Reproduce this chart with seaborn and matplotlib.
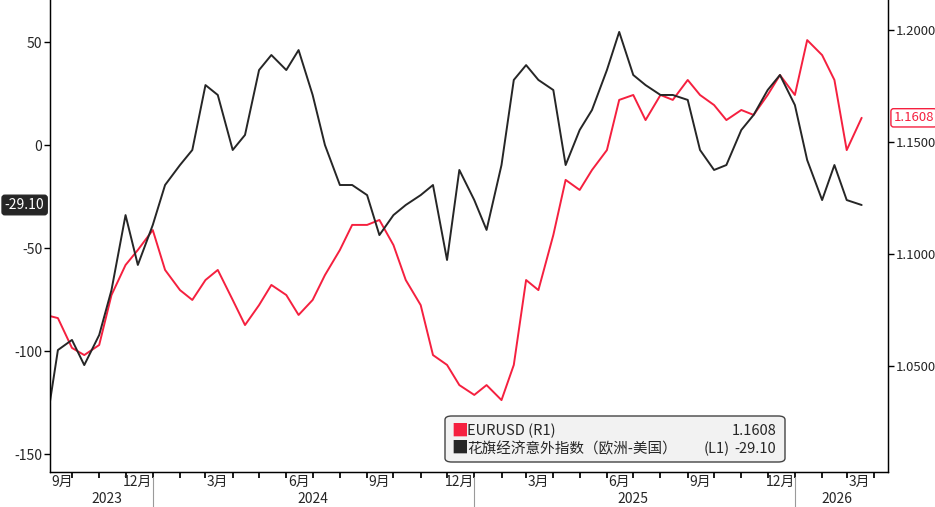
import matplotlib
matplotlib.use("Agg")
import matplotlib.pyplot as plt
import matplotlib.dates as mdates
import matplotlib.transforms as mtrans
import seaborn as sns
import pandas as pd
import numpy as np
from matplotlib.patches import FancyBboxPatch

sns.set_theme(style="white")
plt.rcParams['font.family'] = ['Noto Sans CJK SC', 'DejaVu Sans']

dates = list(pd.date_range('2023-09-01', '2026-03-01', freq='SMS')) + [pd.Timestamp('2026-03-18')]

eurusd = [1.0728, 1.0714, 1.0581, 1.0549, 1.0594, 1.0817, 1.0951, 1.1018, 1.1107, 1.0929,
          1.0839, 1.0795, 1.0884, 1.0929, 1.0795, 1.0683, 1.0772, 1.0862, 1.0817, 1.0728,
          1.0795, 1.0906, 1.1018, 1.1130, 1.1130, 1.1152, 1.1040, 1.0884, 1.0772, 1.0549,
          1.0505, 1.0415, 1.0371, 1.0415, 1.0348, 1.0505, 1.0884, 1.0839, 1.1085, 1.1331,
          1.1286, 1.1375, 1.1464, 1.1688, 1.1710, 1.1598, 1.1710, 1.1688, 1.1777, 1.1710,
          1.1665, 1.1598, 1.1643, 1.1621, 1.1710, 1.1799, 1.1710, 1.1955, 1.1888, 1.1777,
          1.1464, 1.1608]

citi = [-138.3, -99.5, -94.6, -106.8, -92.2, -70.4, -34.0, -58.2, -38.8, -19.4,
        -9.7, -2.4, 29.1, 24.3, -2.4, 4.9, 36.4, 43.7, 36.4, 46.1,
        24.3, 0.0, -19.4, -19.4, -24.3, -43.7, -34.0, -29.1, -24.3, -19.4,
        -55.8, -12.1, -26.7, -41.2, -9.7, 31.6, 38.8, 31.6, 26.7, -9.7,
        7.3, 17.0, 36.4, 54.9, 34.0, 29.1, 24.3, 24.3, 21.9, -2.4,
        -12.1, -9.7, 7.3, 14.6, 26.7, 34.0, 19.4, -7.3, -26.7, -9.7,
        -26.7, -29.1]

left_ticks = [-150, -100, -50, 0, 50]
right_ticks = [1.05, 1.10, 1.15, 1.20]
RED = '#f5203f'
BLACK = '#262626'

df = pd.DataFrame({'date': dates, 'eurusd': eurusd, 'citi': citi})

fig = plt.figure(figsize=(9.35, 5.07), dpi=100)
ax = fig.add_axes([50/935, 35/507, 838/935, 472/507])
ax2 = ax.twinx()

sns.lineplot(data=df, x='date', y='citi', ax=ax, color=BLACK, lw=1.4)
sns.lineplot(data=df, x='date', y='eurusd', ax=ax2, color=RED, lw=1.4)
ax.set_zorder(ax2.get_zorder() + 1)
ax.patch.set_visible(False)

ax.set_xlim(pd.Timestamp('2023-09-06'), pd.Timestamp('2026-04-17'))
ax.set_ylim(-158.7, 70.4)
ax2.set_ylim(1.0027, 1.2134)
ax.set_yticks(left_ticks)
ax.set_yticklabels([str(t) for t in left_ticks], fontsize=10)
ax2.set_yticks(right_ticks)
ax2.set_yticklabels([f'{t:.4f}' for t in right_ticks], fontsize=9.5)
ax.set_xlabel(''); ax.set_ylabel(''); ax2.set_ylabel('')
for a in (ax, ax2):
    a.tick_params(axis='y', length=4, width=1, color='black', pad=1.5)
    for s in a.spines.values():
        s.set_color('black'); s.set_linewidth(0.9)
ax.spines['top'].set_visible(False); ax2.spines['top'].set_visible(False)

ax.xaxis.set_major_locator(mdates.MonthLocator())
ax.xaxis.set_major_formatter(plt.NullFormatter())
ax.tick_params(axis='x', length=4, color='black', bottom=True)
tr = mtrans.blended_transform_factory(ax.transData, ax.transAxes)
for y, m in [(2023, 9), (2023, 12), (2024, 3), (2024, 6), (2024, 9), (2024, 12),
             (2025, 3), (2025, 6), (2025, 9), (2025, 12), (2026, 3)]:
    mid = pd.Timestamp(y, m, 15)
    if y == 2023 and m == 9:
        mid = pd.Timestamp(2023, 9, 20)
    ax.text(mid, -0.006, f'{m}月', transform=tr, ha='center', va='top', fontsize=10)
for yr, mid in [(2023, pd.Timestamp('2023-11-10')), (2024, pd.Timestamp('2024-07-01')),
                (2025, pd.Timestamp('2025-07-01')), (2026, pd.Timestamp('2026-02-18'))]:
    ax.text(mid, -0.042, str(yr), transform=tr, ha='center', va='top', fontsize=10)
for yr in [2024, 2025, 2026]:
    ax.plot([pd.Timestamp(yr, 1, 1)] * 2, [-0.01, -0.075], transform=tr, color='#9a9a9a',
            lw=0.8, clip_on=False)

ax.annotate(f'{citi[-1]:.2f}', xy=(0, citi[-1]), xycoords=('axes fraction', 'data'),
            xytext=(-4, 0), textcoords='offset points', ha='right', va='center',
            fontsize=10, color='white',
            bbox=dict(boxstyle='round,pad=0.2', fc=BLACK, ec=BLACK))
ax2.annotate(f'{eurusd[-1]:.4f}', xy=(1, eurusd[-1]), xycoords=('axes fraction', 'data'),
             xytext=(4, 0), textcoords='offset points', ha='left', va='center',
             fontsize=9.5, color=RED,
             bbox=dict(boxstyle='round,pad=0.2', fc='white', ec=RED))

lx0, ly0, lw_, lh = 395/838, (472-462)/472, 340/838, 46/472
ax.add_patch(FancyBboxPatch((lx0, ly0), lw_, lh, boxstyle='round,pad=0,rounding_size=0.008',
                            transform=ax.transAxes, fc='#f2f2f2', ec='#444444', lw=1, zorder=10))
rows = [('EURUSD (R1)', '', f'{eurusd[-1]:.4f}', RED),
        ('花旗经济意外指数（欧洲-美国）', '(L1)', f'{citi[-1]:.2f}', BLACK)]
for i, (lab, tag, val, c) in enumerate(rows):
    yy = ly0 + lh * (0.67 - 0.38 * i)
    ax.text(lx0 + 0.008, yy, '■', transform=ax.transAxes, color=c, fontsize=12,
            va='center', ha='left', zorder=11)
    ax.text(lx0 + 0.026, yy, lab, transform=ax.transAxes, fontsize=10.5, va='center',
            ha='left', zorder=11)
    ax.text(lx0 + lw_ - 0.066, yy, tag, transform=ax.transAxes, fontsize=10.5, va='center',
            ha='right', zorder=11)
    ax.text(lx0 + lw_ - 0.01, yy, val, transform=ax.transAxes, fontsize=10.5, va='center',
            ha='right', zorder=11)

fig.savefig('out.png', dpi=100)
